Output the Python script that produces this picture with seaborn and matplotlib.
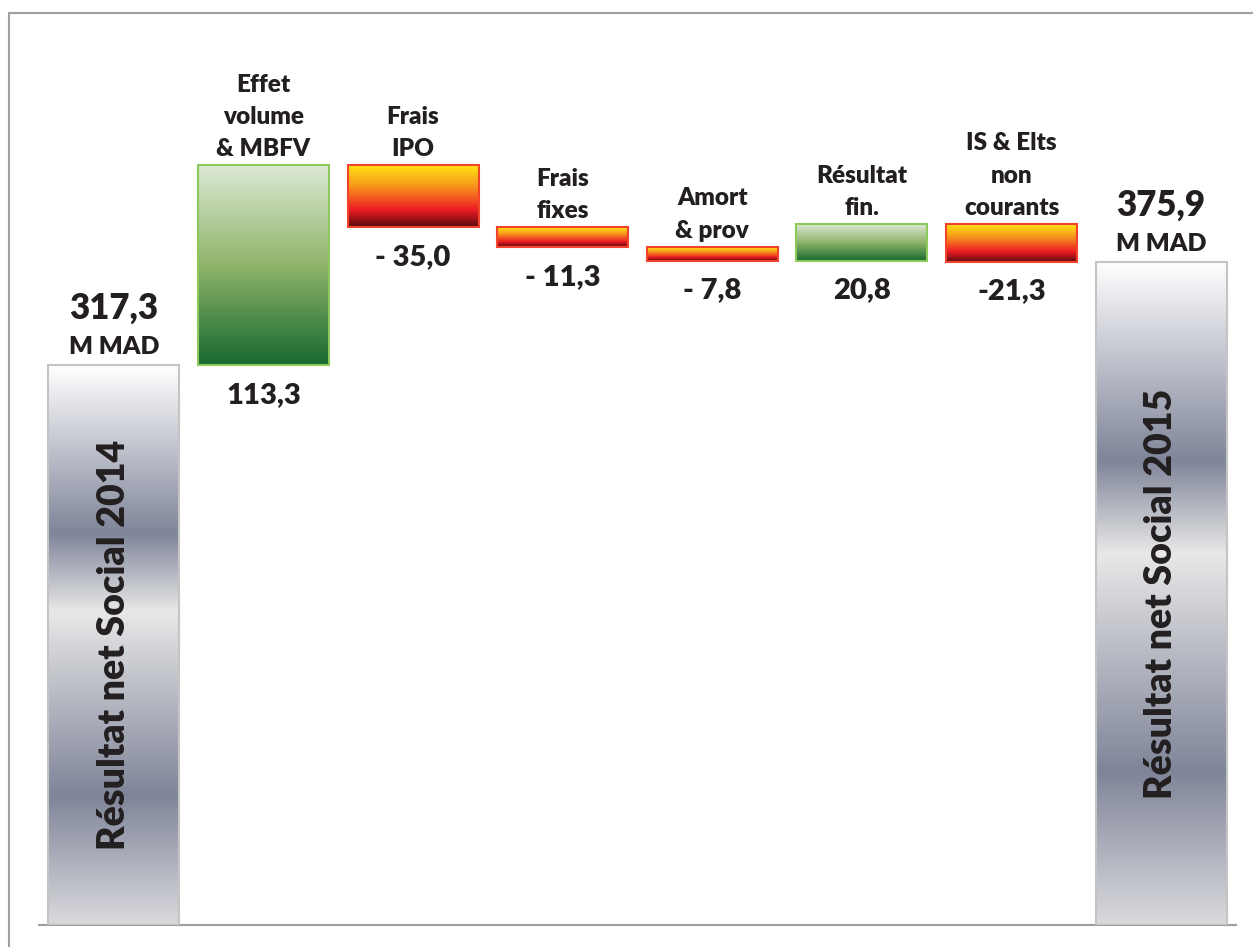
import numpy as np
import pandas as pd
import matplotlib
matplotlib.use("Agg")
import matplotlib.pyplot as plt
from matplotlib.colors import LinearSegmentedColormap
from matplotlib.patches import Rectangle
import seaborn as sns

# ---- data ----
categories = ["Résultat net Social 2014", "Effet\nvolume\n& MBFV", "Frais\nIPO",
              "Frais\nfixes", "Amort\n& prov", "Résultat\nfin.",
              "IS & Elts\nnon\ncourants", "Résultat net Social 2015"]
changes = [317.3, 113.3, -35.0, -11.3, -7.8, 20.8, -21.3, 375.9]
kinds = ["total", "delta", "delta", "delta", "delta", "delta", "delta", "total"]
value_labels = ["317,3", "113,3", "- 35,0", "- 11,3", "- 7,8", "20,8", "-21,3", "375,9"]
unit_label = "M MAD"

# ---- waterfall geometry from data ----
bottoms, heights, tops = [], [], []
running = 0.0
for v, k in zip(changes, kinds):
    if k == "total":
        b, h = 0.0, v
        running = v
    else:
        start, end = running, running + v
        b, h = min(start, end), abs(v)
        running = end
    bottoms.append(b)
    heights.append(h)
    tops.append(b + h)

df = pd.DataFrame({"cat": categories, "top": tops})

sns.set_theme(style="white")
plt.rcParams["font.family"] = ["Lato", "DejaVu Sans"]

W, H = 1253, 947
fig = plt.figure(figsize=(W / 100, H / 100), dpi=100)
ax = fig.add_axes([39 / W, (H - 925) / H, 1197 / W, 912 / H])

sns.barplot(data=df, x="cat", y="top", ax=ax, width=0.876, color="white",
            saturation=1, errorbar=None)

cmap_total = LinearSegmentedColormap.from_list(
    "tot", [(0, "#ffffff"), (0.30, "#7f8599"), (0.44, "#e8e8e8"),
            (0.77, "#7f8599"), (1.0, "#dadadd")])
cmap_pos = LinearSegmentedColormap.from_list(
    "pos", [(0, "#dde9d4"), (0.5, "#8fb46a"), (1.0, "#17692f")])
cmap_neg = LinearSegmentedColormap.from_list(
    "neg", [(0, "#ffe512"), (0.35, "#f7931d"), (0.72, "#ed1c24"), (1.0, "#5a0a0a")])
grad = np.linspace(0, 1, 256).reshape(-1, 1)

for i, p in enumerate(ax.patches):
    p.set_y(bottoms[i])
    p.set_height(heights[i])
    x0, w = p.get_x(), p.get_width()
    if kinds[i] == "total":
        cm, ec = cmap_total, "#c4c4c4"
    elif changes[i] > 0:
        cm, ec = cmap_pos, "#8cc95a"
    else:
        cm, ec = cmap_neg, "#f2442c"
    p.set_facecolor("none")
    p.set_edgecolor(ec)
    p.set_linewidth(1.5)
    p.set_zorder(3)
    im = ax.imshow(cm(grad), extent=[x0, x0 + w, bottoms[i], bottoms[i] + heights[i]],
                   aspect="auto", origin="upper", zorder=2, interpolation="bilinear")
    im.set_clip_path(p)

ax.set_xlim(-0.5, len(categories) - 0.5)
ax.set_ylim(0, 912 / 1.764)

txt = "#231f20"
fw = "heavy"
for i, (k, lab) in enumerate(zip(kinds, value_labels)):
    top = tops[i]
    bot = bottoms[i]
    if k == "total":
        ax.annotate(unit_label, (i, top), xytext=(0, 5), textcoords="offset points",
                    ha="center", va="bottom", fontsize=18, fontweight=fw, color=txt)
        ax.annotate(lab, (i, top), xytext=(0, 29), textcoords="offset points",
                    ha="center", va="bottom", fontsize=25, fontweight=fw, color=txt)
        ax.text(i, bot + heights[i] / 2, categories[i], rotation=90, ha="center",
                va="center", fontsize=27, fontweight=fw, color=txt, zorder=5)
    else:
        ax.annotate(categories[i], (i, top), xytext=(0, 4), textcoords="offset points",
                    ha="center", va="bottom", fontsize=17.5, fontweight=fw, color=txt,
                    linespacing=1.56)
        ax.annotate(lab, (i, bot), xytext=(0, -12), textcoords="offset points",
                    ha="center", va="top", fontsize=21, fontweight=fw, color=txt)

ax.set_xticks([])
ax.set_yticks([])
ax.set_xlabel("")
ax.set_ylabel("")
for s in ["top", "left", "right"]:
    ax.spines[s].set_visible(False)
ax.spines["bottom"].set_color("#a0a0a0")
ax.spines["bottom"].set_linewidth(1.5)
ax.set_facecolor("none")

frame = Rectangle((9 / W, -0.1), 1.2, (H - 13) / H + 0.1, transform=fig.transFigure,
                  fill=False, edgecolor="#a0a0a0", linewidth=1.5, zorder=10)
fig.patches.append(frame)

fig.savefig("out.png", dpi=100)
